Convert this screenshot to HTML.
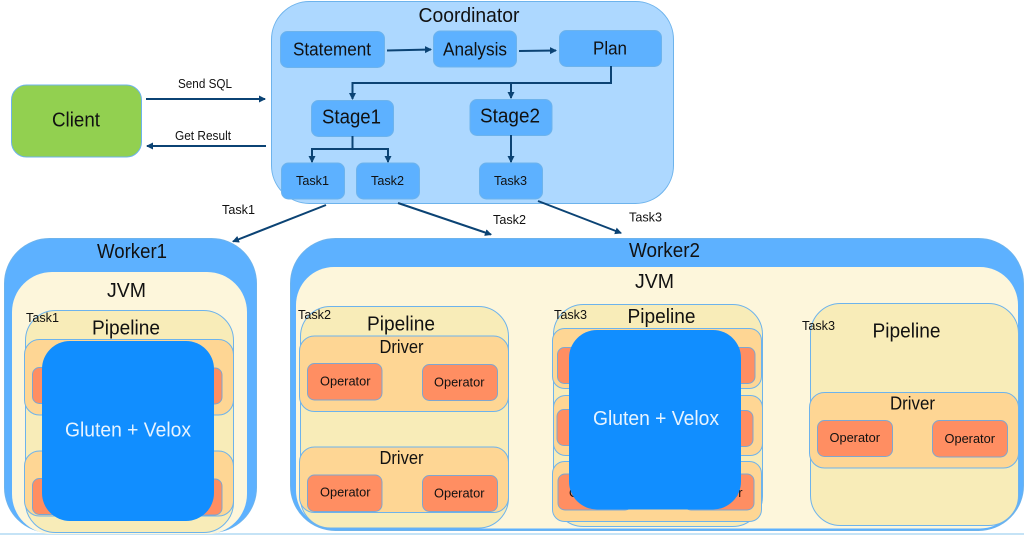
<!DOCTYPE html>
<html><head><meta charset="utf-8"><style>
html,body{margin:0;padding:0;background:#fff;width:1024px;height:535px;overflow:hidden}
svg{display:block}
text{font-family:"Liberation Sans",sans-serif;fill:#111}
.s{stroke:#6db3ec;stroke-width:1}
.c{fill:#add8ff}.b{fill:#5db1ff}.w{fill:#5db1ff}.j{fill:#fdf6db}.p{fill:#f8ecb8}.d{fill:#fed694}.o{fill:#ff8e62;stroke:#7ea6d0;stroke-width:1}.g{fill:#118eff}
.a{stroke:#0b4374;stroke-width:2;fill:none}
.f18{font-size:20px}.f16{font-size:18px}.f12{font-size:13px}
</style></head><body>
<svg width="1024" height="535" viewBox="0 0 1024 535" xmlns="http://www.w3.org/2000/svg">
<defs><marker id="m" markerWidth="8" markerHeight="8" refX="6" refY="3.500" orient="auto" markerUnits="userSpaceOnUse"><path d="M0 0L7 3.500L0 7z" fill="#0b4374"/></marker></defs>
<rect x="0" y="533" width="1024" height="2" fill="#c5e3f6"/>

<rect class="s" x="11.500" y="85" width="130" height="72" rx="15" fill="#92d050"/>
<text x="52" y="126.500" class="f18" textLength="48" lengthAdjust="spacingAndGlyphs">Client</text>

<rect class="s c" x="271.500" y="1.500" width="402" height="202" rx="38"/>
<text x="418.500" y="22" class="f18" textLength="101" lengthAdjust="spacingAndGlyphs">Coordinator</text>
<rect class="s b" x="280.500" y="31.500" width="104" height="36" rx="7"/>
<text x="293" y="55.500" class="f16" textLength="78" lengthAdjust="spacingAndGlyphs">Statement</text>
<rect class="s b" x="433.500" y="31" width="83" height="36" rx="7"/>
<text x="443" y="55.500" class="f16" textLength="64" lengthAdjust="spacingAndGlyphs">Analysis</text>
<rect class="s b" x="559.500" y="30.500" width="102" height="36" rx="7"/>
<text x="593" y="54.500" class="f16" textLength="34" lengthAdjust="spacingAndGlyphs">Plan</text>
<rect class="s b" x="311.500" y="100.500" width="82" height="36" rx="7"/>
<text x="322" y="123.500" class="f18" textLength="59" lengthAdjust="spacingAndGlyphs">Stage1</text>
<rect class="s b" x="470" y="99.500" width="82" height="36" rx="7"/>
<text x="480" y="122.500" class="f18" textLength="60" lengthAdjust="spacingAndGlyphs">Stage2</text>
<rect class="s b" x="281.500" y="163" width="63" height="36" rx="7"/>
<text x="296" y="185" class="f12" textLength="33" lengthAdjust="spacingAndGlyphs">Task1</text>
<rect class="s b" x="356.500" y="163" width="63" height="36" rx="7"/>
<text x="371" y="185" class="f12" textLength="33" lengthAdjust="spacingAndGlyphs">Task2</text>
<rect class="s b" x="479.500" y="163" width="63" height="36" rx="7"/>
<text x="494" y="185" class="f12" textLength="33" lengthAdjust="spacingAndGlyphs">Task3</text>

<g class="a">
<path d="M146 99H265" marker-end="url(#m)"/>
<path d="M266 146H147" marker-end="url(#m)"/>
<path d="M387 50.500L431 49.500" marker-end="url(#m)"/>
<path d="M519 51L556 50.500" marker-end="url(#m)"/>
<path d="M611 66V83H352.500V99" marker-end="url(#m)"/>
<path d="M511 83V98" marker-end="url(#m)"/>
<path d="M352.500 136V149H312V162" marker-end="url(#m)"/>
<path d="M352 149H388V162" marker-end="url(#m)"/>
<path d="M511 135V162" marker-end="url(#m)"/>
<path d="M326 205L233 241.500" marker-end="url(#m)"/>
<path d="M398 203L491 234.500" marker-end="url(#m)"/>
<path d="M538 201L621 233" marker-end="url(#m)"/>
</g>
<text x="178" y="88" class="f12" textLength="54" lengthAdjust="spacingAndGlyphs">Send SQL</text>
<text x="175" y="140" class="f12" textLength="56" lengthAdjust="spacingAndGlyphs">Get Result</text>
<text x="222" y="214" class="f12" textLength="33" lengthAdjust="spacingAndGlyphs">Task1</text>
<text x="493" y="224" class="f12" textLength="33" lengthAdjust="spacingAndGlyphs">Task2</text>
<text x="629" y="221.500" class="f12" textLength="33" lengthAdjust="spacingAndGlyphs">Task3</text>

<!-- Worker1 -->
<rect class="s w" x="4.500" y="238.500" width="252" height="294" rx="45"/>
<rect class="j" x="12" y="272" width="235" height="262" rx="40"/>
<text x="97" y="258" class="f18" textLength="70" lengthAdjust="spacingAndGlyphs">Worker1</text>
<text x="107" y="297" class="f18" textLength="39" lengthAdjust="spacingAndGlyphs">JVM</text>
<rect class="s p" x="25.500" y="310.500" width="208" height="222" rx="30"/>
<text x="26" y="322" class="f12" textLength="33" lengthAdjust="spacingAndGlyphs">Task1</text>
<text x="92" y="334.500" class="f18" textLength="68" lengthAdjust="spacingAndGlyphs">Pipeline</text>
<rect class="s d" x="24.500" y="339.500" width="209" height="75.500" rx="15"/>
<rect class="s d" x="24.500" y="451" width="209" height="65" rx="15"/>
<rect class="o" x="32.500" y="367.500" width="50" height="36" rx="7"/>
<rect class="o" x="172" y="368" width="50" height="36" rx="7"/>
<rect class="o" x="32.500" y="478.500" width="50" height="36" rx="7"/>
<rect class="o" x="172" y="479" width="50" height="36" rx="7"/>
<rect class="g" x="42" y="341" width="172" height="180" rx="28"/>
<text x="65" y="436.500" class="f18" textLength="126" lengthAdjust="spacingAndGlyphs" style="fill:#e8f4ff">Gluten + Velox</text>

<!-- Worker2 -->
<rect class="s w" x="290.500" y="238.500" width="733" height="292" rx="45"/>
<rect class="j" x="296" y="267" width="722" height="261.500" rx="38"/>
<text x="629" y="257" class="f18" textLength="71" lengthAdjust="spacingAndGlyphs">Worker2</text>
<text x="635" y="288" class="f18" textLength="39" lengthAdjust="spacingAndGlyphs">JVM</text>

<!-- Pipeline A -->
<rect class="s p" x="300.500" y="306.500" width="208" height="221.500" rx="30"/>
<text x="298" y="319" class="f12" textLength="33" lengthAdjust="spacingAndGlyphs">Task2</text>
<text x="367" y="330.500" class="f18" textLength="68" lengthAdjust="spacingAndGlyphs">Pipeline</text>
<rect class="s d" x="299.500" y="336" width="209" height="75.500" rx="15"/>
<text x="379.500" y="353" class="f16" textLength="44" lengthAdjust="spacingAndGlyphs">Driver</text>
<rect class="o" x="307.500" y="363.500" width="74.500" height="36.500" rx="7"/>
<text x="320" y="385.500" class="f12" textLength="50.500" lengthAdjust="spacingAndGlyphs">Operator</text>
<rect class="o" x="422.500" y="364.500" width="75" height="36" rx="7"/>
<text x="434" y="386.500" class="f12" textLength="50.500" lengthAdjust="spacingAndGlyphs">Operator</text>
<rect class="s d" x="299.500" y="447" width="209" height="65.500" rx="15"/>
<text x="379.500" y="464" class="f16" textLength="44" lengthAdjust="spacingAndGlyphs">Driver</text>
<rect class="o" x="307.500" y="475" width="74.500" height="36.500" rx="7"/>
<text x="320" y="496.500" class="f12" textLength="50.500" lengthAdjust="spacingAndGlyphs">Operator</text>
<rect class="o" x="422.500" y="475.500" width="75" height="36" rx="7"/>
<text x="434" y="497.500" class="f12" textLength="50.500" lengthAdjust="spacingAndGlyphs">Operator</text>

<!-- Pipeline B -->
<rect class="s p" x="553.500" y="304.500" width="209" height="222" rx="30"/>
<text x="554" y="319" class="f12" textLength="33" lengthAdjust="spacingAndGlyphs">Task3</text>
<text x="627.500" y="323" class="f18" textLength="68" lengthAdjust="spacingAndGlyphs">Pipeline</text>
<rect class="s d" x="552.500" y="328.500" width="209" height="60" rx="12"/>
<rect class="s d" x="553.500" y="395.500" width="209" height="60" rx="12"/>
<rect class="s d" x="552.500" y="461.500" width="209" height="60" rx="12"/>
<rect class="o" x="557.500" y="347.500" width="50" height="36" rx="7"/>
<rect class="o" x="705" y="347.500" width="50" height="36" rx="7"/>
<rect class="o" x="557" y="409.500" width="50" height="36" rx="7"/>
<rect class="o" x="703" y="410.500" width="50" height="36" rx="7"/>
<rect class="o" x="558" y="474" width="74" height="36" rx="7"/>
<rect class="o" x="684" y="474" width="70" height="36" rx="7"/>
<text x="569" y="497" class="f12" textLength="50.500" lengthAdjust="spacingAndGlyphs">Operator</text>
<text x="692" y="497" class="f12" textLength="50.500" lengthAdjust="spacingAndGlyphs">Operator</text>
<rect class="g" x="569" y="330" width="172" height="179.500" rx="28"/>
<text x="593" y="425" class="f18" textLength="126" lengthAdjust="spacingAndGlyphs" style="fill:#e8f4ff">Gluten + Velox</text>

<!-- Pipeline C -->
<rect class="s p" x="810.500" y="303.500" width="208" height="222" rx="30"/>
<text x="802" y="330" class="f12" textLength="33" lengthAdjust="spacingAndGlyphs">Task3</text>
<text x="872.500" y="337.500" class="f18" textLength="68" lengthAdjust="spacingAndGlyphs">Pipeline</text>
<rect class="s d" x="809.500" y="392.500" width="209" height="75.500" rx="15"/>
<text x="890" y="409.500" class="f16" textLength="45" lengthAdjust="spacingAndGlyphs">Driver</text>
<rect class="o" x="817.500" y="420.500" width="75" height="36" rx="7"/>
<text x="829.500" y="442" class="f12" textLength="50.500" lengthAdjust="spacingAndGlyphs">Operator</text>
<rect class="o" x="932.500" y="420.500" width="75" height="36.500" rx="7"/>
<text x="944.500" y="443" class="f12" textLength="50.500" lengthAdjust="spacingAndGlyphs">Operator</text>
</svg>
</body></html>
